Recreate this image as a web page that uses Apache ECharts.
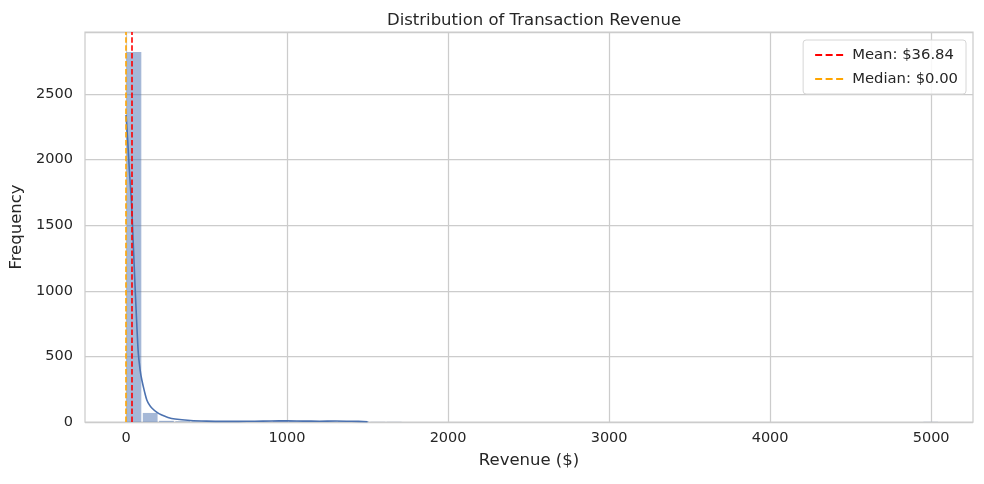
<!DOCTYPE html>
<html>
<head>
<meta charset="utf-8">
<script src="https://cdn.jsdelivr.net/npm/echarts@6/dist/echarts.min.js"></script>
<style>html,body{margin:0;padding:0;background:#fff}#c{width:984px;height:484px}</style>
</head>
<body>
<div id="c"></div>
<script>
// Histogram bins (50 bins of width ~101 from 0 to ~5050)
const binStart = 0;
const binWidth = 101;
const counts = [2820, 69, 9, 5, 4, 3, 2, 2, 3, 6, 7, 3, 4, 6, 3, 1, 1, 0, 0, 0,
                0, 0, 0, 0, 0, 0, 0, 0, 0, 0, 0, 0, 0, 0, 0, 0, 0, 0, 0, 0,
                0, 0, 0, 0, 0, 0, 0, 0, 0, 1];
// KDE curve (scaled to counts)
const kdeX = [0, 10, 20, 35, 45, 56, 66, 76, 87, 98, 115, 129, 145, 160, 190, 222, 260, 304, 400, 500, 600, 700, 800, 900, 1000, 1100, 1200, 1300, 1400, 1500];
const kdeY = [2340, 2150, 1930, 1641, 1350, 1031, 760, 526, 400, 320, 230, 168, 130, 107, 75, 53, 35, 23, 12, 7, 5, 5, 6, 8, 9, 7, 6, 8, 6, 2];
const meanVal = 36.84;
const medianVal = 0;
const xTicks = [0, 1000, 2000, 3000, 4000, 5000];
const yTicks = [0, 500, 1000, 1500, 2000, 2500];

const txt = '#262626';
const font = 'DejaVu Sans';
const barData = counts.map((c, i) => [binStart + i * binWidth, binStart + (i + 1) * binWidth, c]);
const dashIcon = 'path://M0,0h7v2h-7z M10.5,0h7v2h-7z M21,0h7v2h-7z';

const chart = echarts.init(document.getElementById('c'), null, {renderer: 'canvas'});
chart.setOption({
  animation: false,
  backgroundColor: '#ffffff',
  textStyle: {fontFamily: font, color: txt},
  title: {
    text: 'Distribution of Transaction Revenue',
    left: 529, top: 7, textAlign: 'center',
    textStyle: {fontFamily: font, fontSize: 16.5, fontWeight: 'normal', color: txt}
  },
  grid: {left: 85, right: 11, top: 32, bottom: 62, show: true, borderColor: '#cccccc', borderWidth: 1.25, backgroundColor: 'transparent'},
  legend: {
    right: 18, top: 40, orient: 'vertical',
    data: [{name: 'Mean: $36.84', icon: dashIcon}, {name: 'Median: $0.00', icon: dashIcon}],
    itemWidth: 28, itemHeight: 2, itemGap: 8,
    padding: [7, 8, 7, 12],
    backgroundColor: 'rgba(255,255,255,0.85)',
    borderColor: '#d6d6d6', borderWidth: 1, borderRadius: 3,
    textStyle: {fontFamily: font, fontSize: 14.8, color: txt, padding: [0, 0, 0, 4], lineHeight: 16}
  },
  xAxis: {
    type: 'value', min: -255, max: 5260,
    name: 'Revenue ($)', nameLocation: 'middle', nameGap: 30,
    nameTextStyle: {fontFamily: font, fontSize: 16.5, color: txt},
    axisLine: {show: false},
    axisTick: {show: false, customValues: xTicks},
    axisLabel: {customValues: xTicks, fontFamily: font, fontSize: 14.5, color: txt, margin: 9,
      formatter: v => String(v)},
    splitLine: {show: true, lineStyle: {color: '#cccccc', width: 1.25}}
  },
  yAxis: {
    type: 'value', min: 0, max: 2973, interval: 500,
    name: 'Frequency', nameLocation: 'middle', nameGap: 49,
    nameTextStyle: {fontFamily: font, fontSize: 16.5, color: txt},
    axisLine: {show: false},
    axisTick: {show: false},
    axisLabel: {fontFamily: font, fontSize: 14.5, color: txt, margin: 12,
      formatter: v => yTicks.includes(v) ? String(v) : ''},
    splitLine: {show: true, lineStyle: {color: '#cccccc', width: 1.25}}
  },
  series: [
    {
      type: 'custom', name: 'hist', silent: true, z: 2,
      data: barData,
      renderItem: function (params, api) {
        const p0 = api.coord([api.value(0), api.value(2)]);
        const p1 = api.coord([api.value(1), 0]);
        return {
          type: 'rect',
          shape: {x: p0[0] + 0.5, y: p0[1], width: p1[0] - p0[0] - 1.5, height: p1[1] - p0[1]},
          style: {fill: 'rgba(76,114,176,0.5)'}
        };
      }
    },
    {
      type: 'line', name: 'kde', silent: true, z: 3,
      data: kdeX.map((x, i) => [x, kdeY[i]]),
      smooth: 0.3, symbol: 'none', clip: true,
      lineStyle: {color: '#4c72b0', width: 1.6}
    },
    {
      type: 'line', name: 'Mean: $36.84', data: [], symbol: 'none', z: 4,
      itemStyle: {color: '#ff0000'},
      lineStyle: {color: '#ff0000', width: 1.6, type: [5.5, 2.4]},
      markLine: {
        silent: true, symbol: ['none', 'none'], label: {show: false},
        lineStyle: {color: '#ff0000', width: 1.6, type: [5.5, 2.4]},
        data: [{xAxis: meanVal}]
      }
    },
    {
      type: 'line', name: 'Median: $0.00', data: [], symbol: 'none', z: 4,
      itemStyle: {color: '#ffa500'},
      lineStyle: {color: '#ffa500', width: 1.6, type: [5.5, 2.4]},
      markLine: {
        silent: true, symbol: ['none', 'none'], label: {show: false},
        lineStyle: {color: '#ffa500', width: 1.6, type: [5.5, 2.4]},
        data: [{xAxis: medianVal}]
      }
    }
  ]
});
</script>
</body>
</html>
